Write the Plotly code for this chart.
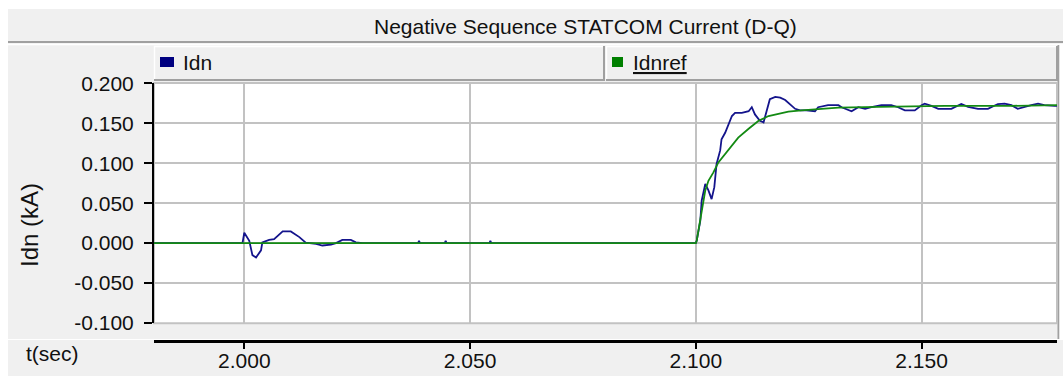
import plotly.graph_objects as go

# ---- data -------------------------------------------------------------
x_range = [1.98, 2.18]
x_ticks = [2.000, 2.050, 2.100, 2.150]
x_ticktext = ["2.000", "2.050", "2.100", "2.150"]
y_ticks = [-0.100, -0.050, 0.000, 0.050, 0.100, 0.150, 0.200]
y_ticktext = ["-0.100", "-0.050", "0.000", "0.050", "0.100", "0.150", "0.200"]

idn_t = [
    1.9800, 1.9996, 2.0000, 2.0011, 2.0018, 2.0026, 2.0037, 2.0040, 2.0055,
    2.0066, 2.0085, 2.0103, 2.0122, 2.0136, 2.0159, 2.0173, 2.0192, 2.0203,
    2.0217, 2.0236, 2.0247, 2.0262, 2.0385, 2.0387, 2.0389, 2.0444, 2.0446,
    2.0448, 2.0543, 2.0545, 2.0547, 2.1000,
    2.1002, 2.1010, 2.1013, 2.1021, 2.1028, 2.1035, 2.1041, 2.1046, 2.1054,
    2.1057, 2.1065, 2.1072, 2.1080, 2.1087, 2.1102, 2.1117, 2.1124, 2.1131,
    2.1142, 2.1150, 2.1157, 2.1164, 2.1176, 2.1187, 2.1198, 2.1209, 2.1220,
    2.1231, 2.1245, 2.1264, 2.1271, 2.1293, 2.1316, 2.1323, 2.1345, 2.1360,
    2.1375, 2.1389, 2.1411, 2.1433, 2.1448, 2.1463, 2.1485, 2.1500, 2.1507,
    2.1522, 2.1537, 2.1566, 2.1588, 2.1603, 2.1625, 2.1647, 2.1669, 2.1684,
    2.1699, 2.1713, 2.1728, 2.1743, 2.1758, 2.1772, 2.1795, 2.1800,
]
idn_v = [
    0.000, 0.000, 0.013, 0.003, -0.015, -0.018, -0.009, 0.001, 0.004,
    0.005, 0.0146, 0.0146, 0.0075, 0.0005, -0.001, -0.003, -0.002, 0.000,
    0.004, 0.004, 0.001, 0.000, 0.000, 0.003, 0.000, 0.000, 0.003,
    0.000, 0.000, 0.003, 0.000, 0.000,
    0.003, 0.028, 0.053, 0.074, 0.066, 0.055, 0.070, 0.099, 0.116,
    0.130, 0.138, 0.149, 0.159, 0.163, 0.163, 0.165, 0.170, 0.161,
    0.153, 0.151, 0.165, 0.180, 0.183, 0.182, 0.179, 0.174, 0.168,
    0.166, 0.166, 0.165, 0.170, 0.1725, 0.1725, 0.170, 0.165, 0.170,
    0.168, 0.170, 0.1725, 0.1725, 0.170, 0.166, 0.166, 0.1725, 0.1745,
    0.1717, 0.168, 0.168, 0.174, 0.1705, 0.168, 0.168, 0.174, 0.1745,
    0.1725, 0.168, 0.1705, 0.1725, 0.1745, 0.1725, 0.1717, 0.1717,
]

idnref_t = [
    1.9800, 2.1000, 2.1002, 2.1010, 2.1015, 2.1021, 2.1028, 2.1039, 2.1050,
    2.1065, 2.1080, 2.1094, 2.1117, 2.1139, 2.1161, 2.1183, 2.1205, 2.1234,
    2.1271, 2.1316, 2.1405, 2.1551, 2.1699, 2.1800,
]
idnref_v = [
    0.000, 0.000, 0.003, 0.030, 0.051, 0.066, 0.078, 0.0885, 0.101,
    0.1115, 0.122, 0.132, 0.143, 0.153, 0.159, 0.162, 0.1646, 0.166,
    0.1676, 0.1696, 0.1705, 0.1717, 0.1717, 0.1725,
]

# ---- geometry helpers (pixel -> paper coordinates) ---------------------
W, H = 1063, 376
ML, MR, MT, MB = 154, 6, 83, 35
PW, PH = W - ML - MR, H - MT - MB


def px(x):
    return (x - ML) / PW


def py(y):
    return (H - MB - y) / PH


PANEL = "#F0F0F0"
DARK = "#A0A0A0"
GRID = "#C2C2C2"
FONT = "Liberation Sans, Arial, sans-serif"
BLUE = "#14148C"
GREEN = "#138A13"

fig = go.Figure()

fig.add_trace(go.Scatter(
    x=idn_t, y=idn_v, name="Idn", mode="lines",
    line=dict(color=BLUE, width=1.8), showlegend=False,
))
fig.add_trace(go.Scatter(
    x=idnref_t, y=idnref_v, name="Idnref", mode="lines",
    line=dict(color=GREEN, width=1.8), showlegend=False,
))
# carrier for the detached time axis drawn below the plot
fig.add_trace(go.Scatter(
    x=[], y=[], xaxis="x2", yaxis="y", showlegend=False, hoverinfo="skip",
))

shapes = []


def rect(x0, y0, x1, y1, fill, line=None, layer="below"):
    shapes.append(dict(
        type="rect", xref="paper", yref="paper",
        x0=px(x0), x1=px(x1), y0=py(y0), y1=py(y1),
        fillcolor=fill, line=dict(width=0) if line is None else line,
        layer=layer,
    ))


def hline(x0, x1, y, color, width=1, layer="above"):
    shapes.append(dict(
        type="line", xref="paper", yref="paper",
        x0=px(x0), x1=px(x1), y0=py(y), y1=py(y),
        line=dict(color=color, width=width), layer=layer,
    ))


def vline(x, y0, y1, color, width=1, layer="above"):
    shapes.append(dict(
        type="line", xref="paper", yref="paper",
        x0=px(x), x1=px(x), y0=py(y0), y1=py(y1),
        line=dict(color=color, width=width), layer=layer,
    ))


# window frame: white margins around the grey panels
rect(0, 0, W, 9, "white")
rect(0, 0, 8, H, "white")
hline(8, W, 42, DARK, 2, layer="below")
hline(8, W, 44.5, "white", 1.5, layer="below")
hline(8, W, 339.5, "white", 1, layer="below")
vline(1058.5, 45, 339, DARK, 2, layer="below")
rect(1059.5, 45, W, 339, "white")

# legend strip (two raised cells)
for cx0, cx1 in [(154, 604), (606, 1057)]:
    hline(cx0, cx1, 46.5, "white", 1.5)
    vline(cx0 + 0.5, 46, 80, "white", 1.5)
    hline(cx0, cx1, 80, DARK, 2)
    vline(cx1, 46, 81, DARK, 2)

# legend swatches
rect(160, 57, 174, 67, "#000080", layer="above")
rect(612, 57, 623, 67, "#008000", layer="above")

# plot border (grey) on top, right and bottom
shapes.append(dict(
    type="rect", xref="x domain", yref="y domain", x0=0, x1=1, y0=0, y1=1,
    line=dict(color=GRID, width=2), fillcolor="rgba(0,0,0,0)", layer="below",
))

annotations = [
    dict(text="Negative Sequence STATCOM Current (D-Q)", x=px(585), y=py(26),
         xref="paper", yref="paper", showarrow=False,
         font=dict(size=21, color="#111111", family=FONT),
         xanchor="center", yanchor="middle"),
    dict(text="Idn", x=px(181), y=py(62), xref="paper", yref="paper",
         showarrow=False, font=dict(size=21, color="#111111", family=FONT),
         xanchor="left", yanchor="middle"),
    dict(text="<u>Idnref</u>", x=px(631), y=py(62), xref="paper", yref="paper",
         showarrow=False, font=dict(size=21, color="#111111", family=FONT),
         xanchor="left", yanchor="middle"),
    dict(text="Idn (kA)", x=px(29), y=py(225), xref="paper", yref="paper",
         showarrow=False, textangle=-90,
         font=dict(size=24, color="#111111", family=FONT),
         xanchor="center", yanchor="middle"),
    dict(text="t(sec)", x=px(24), y=py(353), xref="paper", yref="paper",
         showarrow=False, font=dict(size=21, color="#111111", family=FONT),
         xanchor="left", yanchor="middle"),
]

ydom0 = py(323.3)

fig.update_layout(
    width=W, height=H,
    margin=dict(l=ML, r=MR, t=MT, b=MB, pad=0, autoexpand=False),
    paper_bgcolor=PANEL, plot_bgcolor="white",
    font=dict(family=FONT, size=21, color="#111111"),
    showlegend=False,
    shapes=shapes, annotations=annotations,
    xaxis=dict(
        range=x_range, anchor="y", showgrid=True, gridcolor=GRID, gridwidth=2,
        tickmode="array", tickvals=x_ticks, showticklabels=False, ticks="",
        showline=False, zeroline=False, fixedrange=True, automargin=False,
    ),
    xaxis2=dict(
        range=x_range, overlaying="x", anchor="free", position=0,
        tickmode="array", tickvals=x_ticks, ticktext=x_ticktext,
        ticks="outside", ticklen=6, tickwidth=2, tickcolor="black",
        showline=True, linecolor="black", linewidth=3,
        showgrid=False, zeroline=False, ticklabelstandoff=-6, automargin=False,
        tickfont=dict(size=21, color="#111111", family=FONT),
    ),
    yaxis=dict(
        domain=[ydom0, 1], range=[-0.1003, 0.2003],
        tickmode="array", tickvals=y_ticks, ticktext=y_ticktext,
        ticks="outside", ticklen=8, tickwidth=2, tickcolor="black",
        showline=True, linecolor="black", linewidth=2,
        showgrid=True, gridcolor=GRID, gridwidth=2, zeroline=False,
        ticklabelstandoff=6, automargin=False,
        tickfont=dict(size=21, color="#111111", family=FONT),
    ),
)

fig.write_html("out.html")
